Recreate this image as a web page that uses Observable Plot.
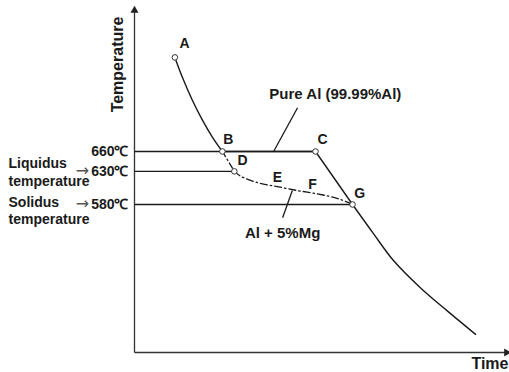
<!DOCTYPE html>
<html><head><meta charset="utf-8">
<script src="https://cdn.jsdelivr.net/npm/d3@7"></script>
<script src="https://cdn.jsdelivr.net/npm/@observablehq/plot@0.6"></script>
<style>body{margin:0;background:#fff} svg{display:block}</style>
</head><body><div id="chart"></div>
<script>
// Temperature tick values and labels
const tickValues = [660, 630, 580];
const tickLabels = ["660℃", "630℃", "580℃"];

// Pure Al: A → B (curved cooling of liquid)
const liquidTime = [10.8, 12.8, 15.5, 18.2, 20.9, 23.5];
const liquidTemp = [802, 772, 737, 707, 681, 660];
// Pure Al: B → C (plateau) → G
const plateauTime = [23.5, 48.4, 58.3];
const plateauTemp = [660, 660, 580];
// Cooling after G (solid)
const tailTime = [58.3, 63.9, 69.3, 76.5, 83.7, 91.2];
const tailTemp = [580, 536, 495, 454, 419, 384];
// Al + 5%Mg: B → D, then D → E → F → G
const alloyStartTime = [23.5, 26.7];
const alloyStartTemp = [660, 630];
const alloyTime = [26.7, 28.3, 32.9, 38.2, 43.6, 48.9, 54.3, 58.3];
const alloyTemp = [630, 623, 613, 607, 601, 596, 589, 580];

// Horizontal temperature levels: end time of each line
const levelTemp = [660, 630, 580];
const levelEnd = [48.4, 26.7, 58.3];

// Marked points
const pointNames = ["A", "B", "C", "D", "G"];
const pointTime = [10.8, 23.5, 48.4, 26.7, 58.3];
const pointTemp = [802, 660, 660, 630, 580];

// Point letters
const letterNames = ["A", "B", "C", "D", "E", "F", "G"];
const letterTime = [13.4, 25.1, 50.3, 28.9, 38.2, 47.6, 60.2];
const letterTemp = [823, 678, 678, 646, 621, 610, 597];

// Curve labels and their leaders
const curveLabels = ["Pure Al (99.99%Al)", "Al + 5%Mg"];
const curveLabelTime = [53.7, 39.6];
const curveLabelTemp = [746, 536];
const leaderFromTime = [37.2, 42.2];
const leaderFromTemp = [660, 601];
const leaderToTime = [43.6, 39.6];
const leaderToTemp = [726, 560];

const xMin = 0, xMax = 100, yMin = 356.6, yMax = 875.8;
const ink = "#1a1a1a";

const zip = (a, b) => a.map((v, i) => [v, b[i]]);

const chart = Plot.plot({
  width: 509, height: 372,
  marginLeft: 134, marginRight: 1, marginTop: 8, marginBottom: 20,
  x: {domain: [xMin, xMax], axis: null},
  y: {domain: [yMin, yMax], axis: null},
  style: {fontFamily: "'Liberation Sans', Arial, sans-serif", background: "white", color: ink},
  marks: [
    // axes
    Plot.link([0], {x1: xMin, y1: yMin, x2: xMax, y2: yMin, stroke: "#333", strokeWidth: 1.3}),
    Plot.link([0], {x1: xMin, y1: yMin, x2: xMin, y2: yMax, stroke: "#333", strokeWidth: 1.3}),
    Plot.dot([[xMax, yMin]], {symbol: "triangle", rotate: 90, r: 3, fill: "#222", dx: -2}),
    Plot.dot([[xMin, yMax]], {symbol: "triangle", r: 3, fill: "#222", dy: 2}),
    // horizontal levels
    Plot.link(levelTemp, {x1: xMin, x2: (d, i) => levelEnd[i], y1: d => d, y2: d => d, stroke: ink, strokeWidth: 1.4}),
    // pure Al curve
    Plot.line(zip(liquidTime, liquidTemp), {curve: "catmull-rom", stroke: ink, strokeWidth: 1.4}),
    Plot.line(zip(plateauTime, plateauTemp), {stroke: ink, strokeWidth: 1.4}),
    Plot.line(zip(tailTime, tailTemp), {curve: "catmull-rom", stroke: ink, strokeWidth: 1.4}),
    // alloy curve (dash-dot)
    Plot.line(zip(alloyStartTime, alloyStartTemp), {stroke: ink, strokeWidth: 1.3, strokeDasharray: "6,3,1.5,3"}),
    Plot.line(zip(alloyTime, alloyTemp), {curve: "catmull-rom", stroke: ink, strokeWidth: 1.3, strokeDasharray: "7,3,1.5,3"}),
    // leaders
    Plot.link(curveLabels, {x1: (d, i) => leaderFromTime[i], y1: (d, i) => leaderFromTemp[i], x2: (d, i) => leaderToTime[i], y2: (d, i) => leaderToTemp[i], stroke: ink, strokeWidth: 1.3}),
    // points
    Plot.dot(pointNames, {x: (d, i) => pointTime[i], y: (d, i) => pointTemp[i], r: 2.8, fill: "white", stroke: "#333", strokeWidth: 1}),
    // letters
    Plot.text(letterNames, {x: (d, i) => letterTime[i], y: (d, i) => letterTemp[i], text: d => d, fontSize: 14, fontWeight: "bold", fill: ink}),
    // curve labels
    Plot.text(curveLabels, {x: (d, i) => curveLabelTime[i], y: (d, i) => curveLabelTemp[i], text: d => d, fontSize: 15, fontWeight: "bold", fill: ink}),
    // tick labels
    Plot.text(tickValues, {x: xMin, y: d => d, text: (d, i) => tickLabels[i], textAnchor: "end", dx: -6, fontSize: 14, fontWeight: "bold", fill: ink}),
    // liquidus / solidus
    Plot.text(["Liquidus\ntemperature"], {x: xMin, y: 630, text: d => d, textAnchor: "start", dx: -126, dy: 0, fontSize: 14, fontWeight: "bold", lineHeight: 1.25, fill: ink}),
    Plot.text(["Solidus\ntemperature"], {x: xMin, y: 580, text: d => d, textAnchor: "start", dx: -126, dy: 6, fontSize: 14, fontWeight: "bold", lineHeight: 1.2, fill: ink}),
    Plot.text([630], {x: xMin, y: d => d, text: ["→"], dx: -52, dy: 0, fontSize: 16, fontFamily: "DejaVu Sans", fill: "#555"}),
    Plot.text([580], {x: xMin, y: d => d, text: ["→"], dx: -52, dy: -1, fontSize: 16, fontFamily: "DejaVu Sans", fill: "#555"}),
    // axis titles
    Plot.text(["Temperature"], {frameAnchor: "top-left", textAnchor: "middle", lineAnchor: "middle", dx: -17, dy: 56, rotate: -90, fontSize: 16, fontWeight: "bold", fill: ink}),
    Plot.text(["Time"], {frameAnchor: "bottom-right", textAnchor: "end", lineAnchor: "middle", dy: 11, fontSize: 16, fontWeight: "bold", fill: ink})
  ]
});
document.getElementById("chart").append(chart);
</script>
</body></html>
